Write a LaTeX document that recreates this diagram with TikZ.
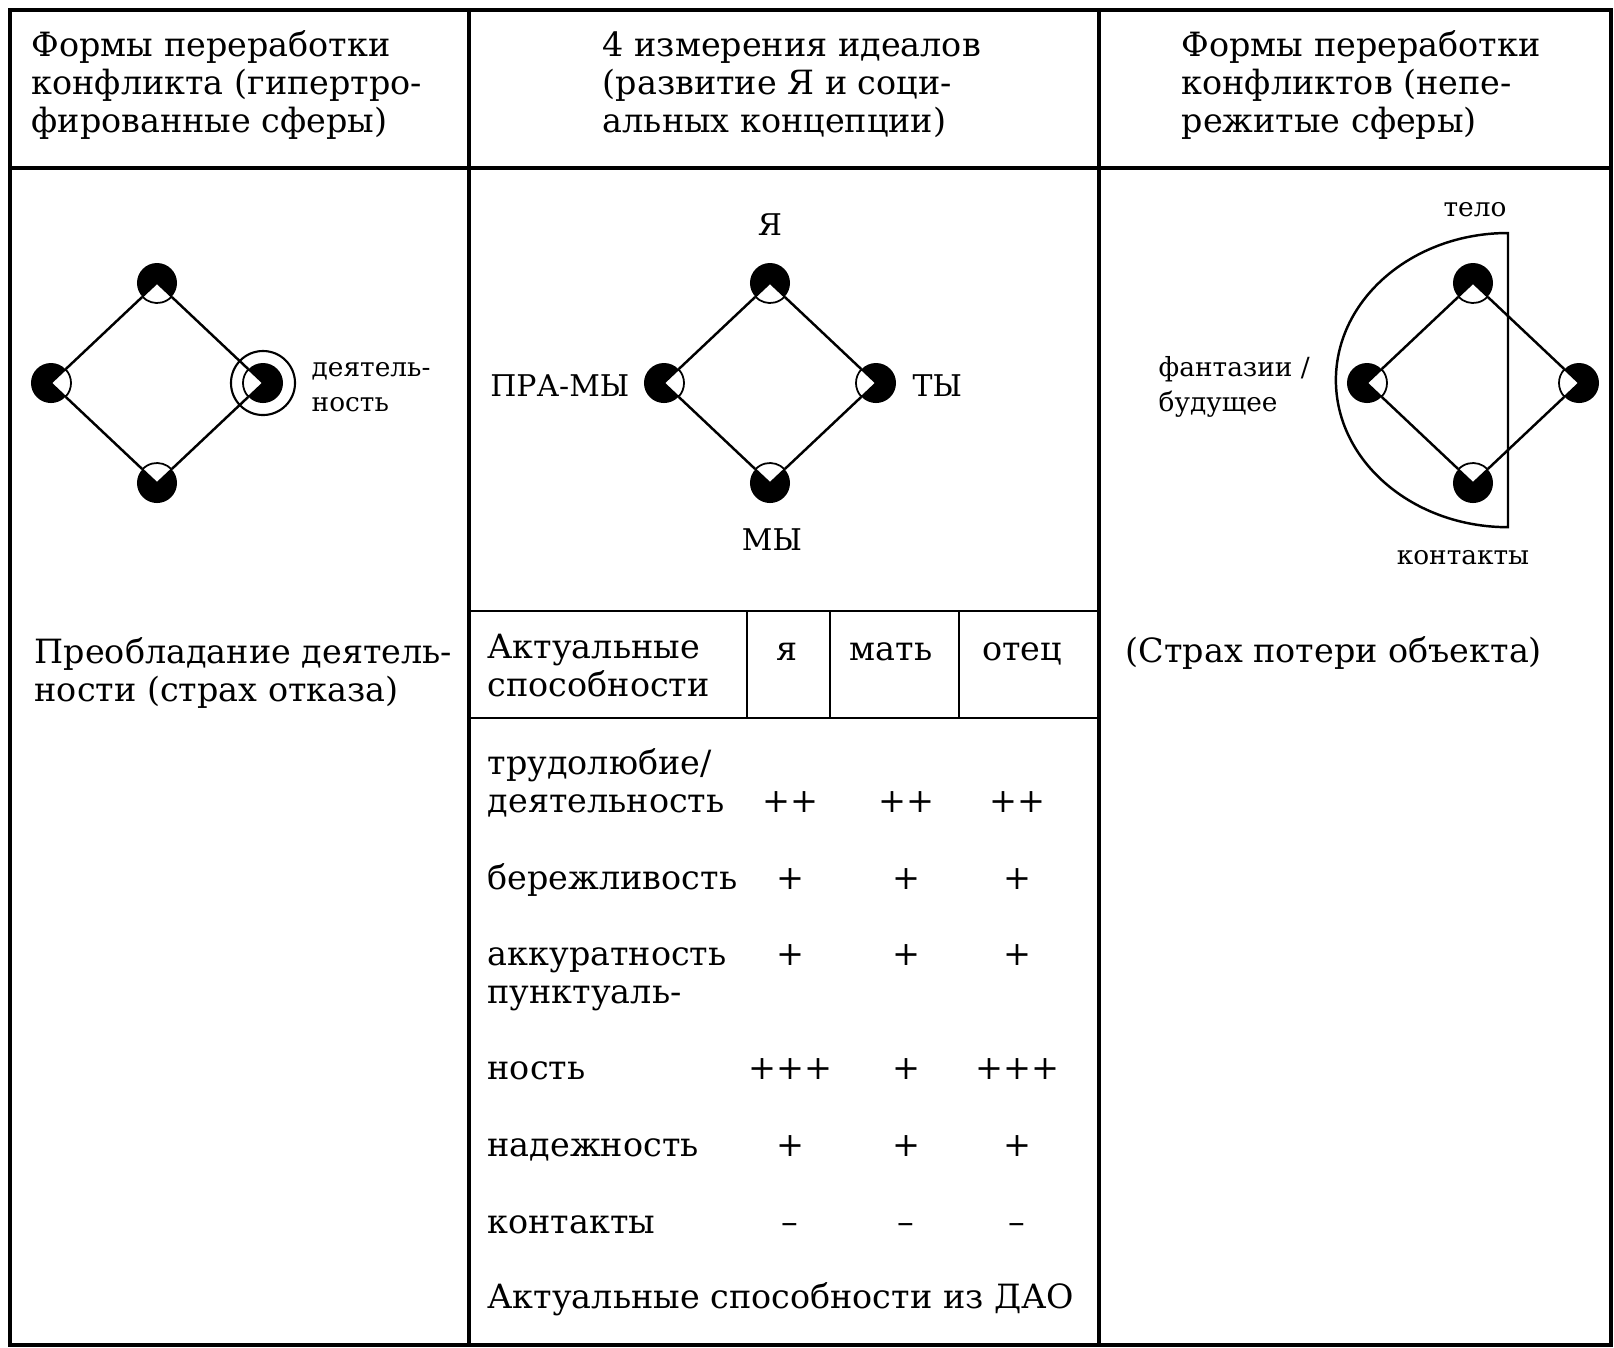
\documentclass[tikz,border=0pt]{standalone}
\usepackage{fontspec}
\setmainfont{DejaVu Serif}

\tikzset{
  rule/.style={line width=0.9pt},
  thinrule/.style={line width=0.7pt},
  edge/.style={line width=0.7pt},
  sph/.style={circle, fill=black, inner sep=0pt, minimum size=0.4cm},
  wedge/.style={draw, fill=white, line width=0.5pt},
  ring/.style={circle, draw, line width=0.6pt, inner sep=0pt, minimum size=0.64cm},
  txt/.style={anchor=base west, inner sep=0pt, align=left, font=\fontsize{9.5}{10.7}\selectfont},
  cell/.style={anchor=base, inner sep=0pt, font=\fontsize{9.5}{10.7}\selectfont},
  lbl/.style={inner sep=0pt, align=left, font=\fontsize{7.5}{10}\selectfont},
  dimlbl/.style={inner sep=0pt, font=\fontsize{8.5}{10}\selectfont},
}

% sphere: name, position, direction of the open side, half angle
\newcommand{\sphere}[4]{%
  \node[sph] (#1) at (#2) {};
  \filldraw[wedge] (#1.center) -- ++(#3-#4:0.2cm) arc[start angle=#3-#4, end angle=#3+#4, radius=0.2cm] -- cycle;
}

\begin{document}
\begin{tikzpicture}[x=0.01cm, y=-0.01cm]
    \useasboundingbox (0,0) rectangle (1614,1347);
    % frame
    \draw[rule] (10,10) rectangle (1611,1345);
    \draw[rule] (10,168) -- (1611,168);
    \draw[rule] (469,10) -- (469,1345);
    \draw[rule] (1099,10) -- (1099,1345);
    \draw[thinrule] (469,611) -- (1099,611);
    \draw[thinrule] (469,718) -- (1099,718);
    \foreach \x in {747,830,959} \draw[thinrule] (\x,611) -- (\x,718);

    % headers (base = last line)
    \node[txt] (h1) at (31,132) {Формы переработки\\конфликта (гипертро-\\фированные сферы)};
    \node[txt] (h2) at (602,132) {4 измерения идеалов\\(развитие Я и соци-\\альных концепции)};
    \node[txt] (h3) at (1181,132) {Формы переработки\\конфликтов (непе-\\режитые сферы)};

    % diamonds
    \draw[edge] (1508,233) arc[start angle=90, end angle=270, x radius=1.72cm, y radius=1.47cm] -- cycle;
    \foreach \d/\cx in {L/157,M/770,R/1473} {
        \sphere{\d-t}{\cx,283}{270}{46.7}
        \sphere{\d-b}{\cx,483}{90}{46.7}
        \sphere{\d-l}{\cx-106,383}{0}{43.3}
        \sphere{\d-r}{\cx+106,383}{180}{43.3}
        \draw[edge] (\d-t) -- (\d-r) -- (\d-b) -- (\d-l) -- (\d-t);
    }
    \node[ring] (L-ring) at (L-r) {};
    \node[lbl, anchor=west] (act) at (311,387) {деятель-\\ность};
    \node[dimlbl] (ya) at (770,225) {Я};
    \node[dimlbl, anchor=east] (prawe) at (630,386) {ПРА-МЫ};
    \node[dimlbl, anchor=west] (ty) at (912,386) {ТЫ};
    \node[dimlbl] (we) at (772,540) {МЫ};
    \node[lbl] (body) at (1475,210) {тело};
    \node[lbl, anchor=west] (fant) at (1158,387) {фантазии /\\будущее};
    \node[lbl] (cont) at (1463,558) {контакты};

    % lower texts
    \node[txt] (pref) at (34,701) {Преобладание деятель-\\ности (страх отказа)};
    \node[txt] (fear) at (1125,662) {(Страх потери объекта)};
    \node[txt] (akt) at (487,696) {Актуальные\\способности};
    \node[cell] (c1) at (787,660) {я};
    \node[cell] (c2) at (891,660) {мать};
    \node[cell] (c3) at (1022,660) {отец};

    \node[txt] (r1) at (487,812) {трудолюбие/\\деятельность};
    \node[txt] (r2) at (487,889) {бережливость};
    \node[txt] (r3) at (487,1003) {аккуратность\\пунктуаль-};
    \node[txt] (r4) at (487,1079) {ность};
    \node[txt] (r5) at (487,1156) {надежность};
    \node[txt] (r6) at (487,1233) {контакты};
    \node[txt] (r7) at (487,1308) {Актуальные способности из ДАО};
    \foreach \by/\a/\b/\c [count=\i] in {812/++/++/++, 889/+/+/+, 965/+/+/+, 1079/+++/+/+++, 1156/+/+/+, 1233/--/--/--} {
        \node[cell] (a\i) at (790,\by) {\a};
        \node[cell] (b\i) at (906,\by) {\b};
        \node[cell] (c\i) at (1017,\by) {\c};
    }
\end{tikzpicture}
\end{document}
